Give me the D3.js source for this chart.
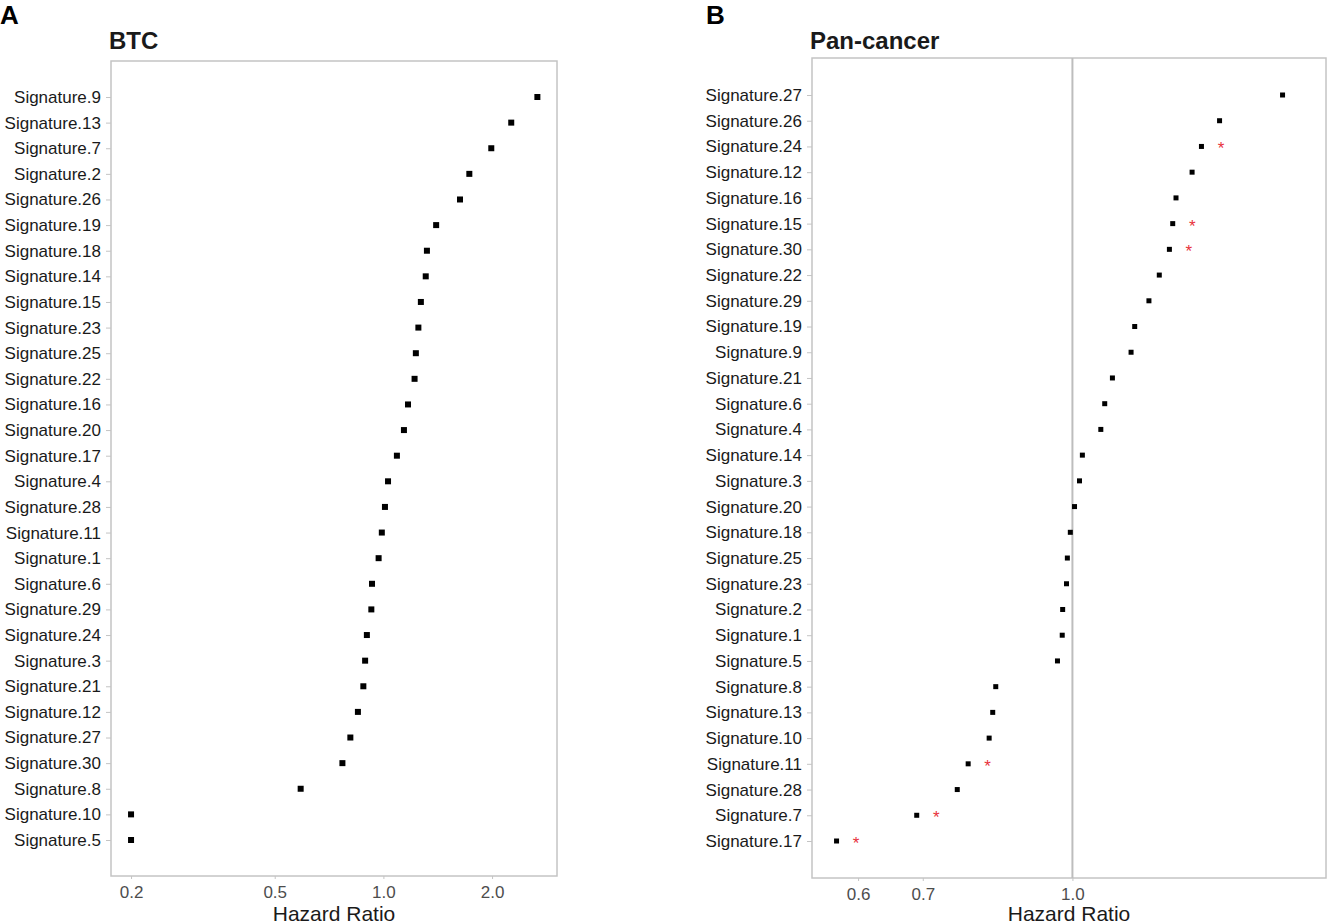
<!DOCTYPE html>
<html>
<meta charset="UTF-8">
<head>
<style>
body { margin: 0; background: white; }
svg text { font-family: "Liberation Sans", Arial, sans-serif; }
</style>
</head>
<body>
<script src="https://d3js.org/d3.v7.min.js"></script>
<script>

// data, top row first
var btcSigs = ["Signature.9", "Signature.13", "Signature.7", "Signature.2", "Signature.26",
               "Signature.19", "Signature.18", "Signature.14", "Signature.15", "Signature.23",
               "Signature.25", "Signature.22", "Signature.16", "Signature.20", "Signature.17",
               "Signature.4", "Signature.28", "Signature.11", "Signature.1", "Signature.6",
               "Signature.29", "Signature.24", "Signature.3", "Signature.21", "Signature.12",
               "Signature.27", "Signature.30", "Signature.8", "Signature.10", "Signature.5"]
var btcHR = [2.67, 2.26, 1.99, 1.73, 1.63,
             1.40, 1.32, 1.31, 1.27, 1.25,
             1.23, 1.22, 1.17, 1.14, 1.09,
             1.03, 1.01, 0.99, 0.97, 0.93,
             0.926, 0.90, 0.89, 0.88, 0.85,
             0.81, 0.77, 0.59, 0.20, 0.20]
var btcTicks = [0.2, 0.5, 1.0, 2.0]

var panSigs = ["Signature.27", "Signature.26", "Signature.24", "Signature.12", "Signature.16",
               "Signature.15", "Signature.30", "Signature.22", "Signature.29", "Signature.19",
               "Signature.9", "Signature.21", "Signature.6", "Signature.4", "Signature.14",
               "Signature.3", "Signature.20", "Signature.18", "Signature.25", "Signature.23",
               "Signature.2", "Signature.1", "Signature.5", "Signature.8", "Signature.13",
               "Signature.10", "Signature.11", "Signature.28", "Signature.7", "Signature.17"]
var panHR = [1.65, 1.42, 1.36, 1.33, 1.28,
             1.27, 1.26, 1.23, 1.20, 1.16,
             1.15, 1.10, 1.08, 1.07, 1.024,
             1.017, 1.005, 0.995, 0.988, 0.986,
             0.977, 0.976, 0.965, 0.833, 0.827,
             0.82, 0.78, 0.76, 0.69, 0.57]
var panStar = [0, 0, 1, 0, 0,
               1, 1, 0, 0, 0,
               0, 0, 0, 0, 0,
               0, 0, 0, 0, 0,
               0, 0, 0, 0, 0,
               0, 1, 0, 1, 1]
var panTicks = [0.6, 0.7, 1.0]

var svg = d3.select("body").append("svg")
            .attr("width", 1327)
            .attr("height", 924)

var boxColor = "#c4c4c4"
    labelColor = "#1a1a1a"
    tickText = "#4d4d4d"

function panel(p) {
    var xScale = d3.scaleLog()
                   .domain(p.domain)
                   .range([p.left, p.right])
    var yScale = d3.scalePoint()
                   .domain(p.sigs)
                   .range([p.first, p.last])

    // panel letter and title
    svg.append("text")
        .attr("x", p.letterX).attr("y", 24)
        .attr("font-size", 26).attr("font-weight", "bold")
        .attr("fill", "#000")
        .text(p.letter)
    svg.append("text")
        .attr("x", p.left - 2).attr("y", 49)
        .attr("font-size", 24).attr("font-weight", "bold")
        .attr("fill", labelColor)
        .text(p.title)

    // frame
    svg.append("rect")
        .attr("x", p.left).attr("y", p.top)
        .attr("width", p.right - p.left).attr("height", p.bottom - p.top)
        .attr("fill", "none")
        .attr("stroke", boxColor).attr("stroke-width", 1.5)

    if (p.refLine) {
        svg.append("line")
            .attr("x1", xScale(1)).attr("x2", xScale(1))
            .attr("y1", p.top).attr("y2", p.bottom)
            .attr("stroke", "#bdbdbd").attr("stroke-width", 2)
    }

    // axes
    var yAxis = d3.axisLeft(yScale).tickSize(5).tickPadding(5)
    var gy = svg.append("g")
        .attr("transform", "translate(" + p.left + ",0)")
        .call(yAxis)
    gy.select(".domain").remove()
    gy.selectAll("line").attr("stroke", boxColor)
    gy.selectAll("text")
        .attr("font-size", 17)
        .attr("fill", labelColor)
        .style("font-family", "'Liberation Sans', Arial, sans-serif")

    var xAxis = d3.axisBottom(xScale)
                  .tickValues(p.ticks)
                  .tickFormat(d3.format(".1f"))
                  .tickSize(3).tickPadding(7)
    var gx = svg.append("g")
        .attr("transform", "translate(0," + p.bottom + ")")
        .call(xAxis)
    gx.select(".domain").remove()
    gx.selectAll("line").attr("stroke", boxColor)
    gx.selectAll("text")
        .attr("font-size", 17)
        .attr("fill", tickText)
        .style("font-family", "'Liberation Sans', Arial, sans-serif")

    svg.append("text")
        .attr("x", (p.left + p.right) / 2)
        .attr("y", 921)
        .attr("text-anchor", "middle")
        .attr("font-size", 21)
        .attr("fill", labelColor)
        .text("Hazard Ratio")

    // points
    var s = p.size
    svg.selectAll(".pt" + p.letter)
        .data(p.sigs)
        .enter().append("rect")
        .attr("class", "pt" + p.letter)
        .attr("x", (d, i) => xScale(p.hr[i]) - s / 2)
        .attr("y", d => yScale(d) - s / 2)
        .attr("width", s).attr("height", s)
        .attr("fill", "#000")

    // significance stars
    if (p.star) {
        svg.selectAll(".st" + p.letter)
            .data(p.sigs.filter((d, i) => p.star[i]))
            .enter().append("text")
            .attr("class", "st" + p.letter)
            .attr("x", d => xScale(p.hr[p.sigs.indexOf(d)]) + 19.5)
            .attr("y", d => yScale(d) + 8)
            .attr("text-anchor", "middle")
            .attr("font-size", 17)
            .attr("fill", "#e8323c")
            .text("*")
    }
}

panel({letter: "A", letterX: 0, title: "BTC",
       left: 111, right: 557, top: 61, bottom: 876,
       first: 97, last: 840, domain: [0.176, 3.026],
       ticks: btcTicks, sigs: btcSigs, hr: btcHR, size: 6})

panel({letter: "B", letterX: 706, title: "Pan-cancer",
       left: 812, right: 1326, top: 58, bottom: 878,
       first: 95, last: 841, domain: [0.5376, 1.83],
       ticks: panTicks, sigs: panSigs, hr: panHR, star: panStar,
       size: 5, refLine: true})

</script>
</body>
</html>
